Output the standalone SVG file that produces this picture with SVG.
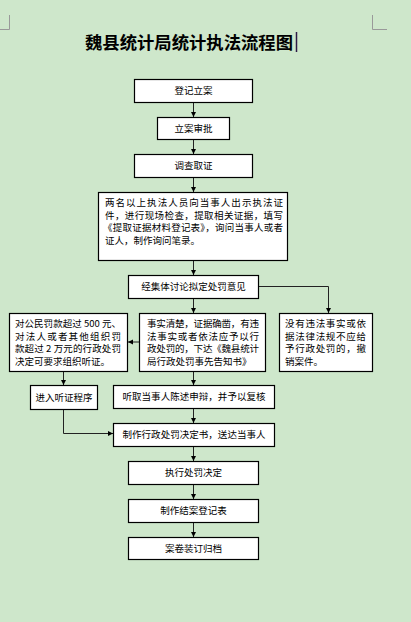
<svg xmlns="http://www.w3.org/2000/svg" width="411" height="622" viewBox="0 0 411 622">
<style>
.bg{fill:#cee7cb}
.box{fill:#fff;stroke:#000;stroke-width:1.2}
.t{font-family:"Noto Sans CJK SC","Liberation Sans",sans-serif;font-size:9.5px;fill:#000}
.c{text-anchor:middle}
.title{font-family:"Noto Sans CJK SC","Liberation Serif",serif;font-size:17px;font-weight:bold;fill:#000}
.ln{fill:none;stroke:#222;stroke-width:1}
.corner{fill:none;stroke:#999;stroke-width:1}
</style>
<defs>
<marker id="ah" markerUnits="userSpaceOnUse" markerWidth="6" markerHeight="6" refX="5" refY="3" orient="auto">
<path d="M0,0.5 L5,3 L0,5.5 Z" fill="#000"/>
</marker>
</defs>
<rect class="bg" x="0" y="0" width="411" height="622"/>
<path class="corner" d="M9.5,15 V29.5 H0 M372.5,15 V29.5 H387"/>
<text class="title" x="85" y="49" textLength="208" lengthAdjust="spacingAndGlyphs">魏县统计局统计执法流程图</text>
<line x1="296.5" y1="32" x2="296.5" y2="52" stroke="#2e1a47" stroke-width="1.5"/>

<g id="connectors">
<line class="ln" x1="193.5" y1="102" x2="193.5" y2="117" marker-end="url(#ah)"/>
<line class="ln" x1="193.5" y1="139" x2="193.5" y2="154" marker-end="url(#ah)"/>
<line class="ln" x1="193.5" y1="177" x2="193.5" y2="192" marker-end="url(#ah)"/>
<line class="ln" x1="193.5" y1="260" x2="193.5" y2="275" marker-end="url(#ah)"/>
<line class="ln" x1="193.5" y1="298" x2="193.5" y2="313" marker-end="url(#ah)"/>
<polyline class="ln" points="258,286.5 328.5,286.5 328.5,313" marker-end="url(#ah)"/>
<line class="ln" x1="139" y1="342" x2="128" y2="342" marker-end="url(#ah)"/>
<line class="ln" x1="63.5" y1="371" x2="63.5" y2="385" marker-end="url(#ah)"/>
<line class="ln" x1="193.5" y1="371" x2="193.5" y2="385" marker-end="url(#ah)"/>
<polyline class="ln" points="63.5,409 63.5,433.5 113,433.5" marker-end="url(#ah)"/>
<line class="ln" x1="193.5" y1="408" x2="193.5" y2="423" marker-end="url(#ah)"/>
<line class="ln" x1="193.5" y1="446" x2="193.5" y2="461" marker-end="url(#ah)"/>
<line class="ln" x1="193.5" y1="484" x2="193.5" y2="499" marker-end="url(#ah)"/>
<line class="ln" x1="193.5" y1="522" x2="193.5" y2="537" marker-end="url(#ah)"/>
</g>

<g id="n1"><rect class="box" x="134.5" y="79.5" width="118" height="23"/><text class="t c" x="193.5" y="94.3">登记立案</text></g>
<g id="n2"><rect class="box" x="157.5" y="117.5" width="72" height="22"/><text class="t c" x="193.5" y="131.8">立案审批</text></g>
<g id="n3"><rect class="box" x="134.5" y="154.5" width="118" height="23"/><text class="t c" x="193.5" y="169.3">调查取证</text></g>
<g id="n4"><rect class="box" x="98.5" y="192.5" width="189" height="68"/>
<text class="t" x="105" y="206.3" textLength="178" lengthAdjust="spacing">两名以上执法人员向当事人出示执法证</text>
<text class="t" x="105" y="218.8" textLength="178" lengthAdjust="spacing">件，进行现场检查，提取相关证据，填写</text>
<text class="t" x="103" y="231.3" textLength="180" lengthAdjust="spacing">《提取证据材料登记表》，询问当事人或者</text>
<text class="t" x="105" y="243.8">证人，制作询问笔录。</text>
</g>
<g id="n5"><rect class="box" x="128.5" y="275.5" width="130" height="23"/><text class="t c" x="193.5" y="290.3">经集体讨论拟定处罚意见</text></g>
<g id="n6"><rect class="box" x="9.5" y="313.5" width="118" height="58"/>
<text class="t" x="15" y="327" textLength="106" lengthAdjust="spacing">对公民罚款超过 500 元、</text>
<text class="t" x="15" y="339.5" textLength="106" lengthAdjust="spacing">对法人或者其他组织罚</text>
<text class="t" x="15" y="352" textLength="106" lengthAdjust="spacing">款超过 2 万元的行政处罚</text>
<text class="t" x="15" y="364.5">决定可要求组织听证。</text>
</g>
<g id="n7"><rect class="box" x="139.5" y="313.5" width="126" height="58"/>
<text class="t" x="147" y="327" textLength="112" lengthAdjust="spacing">事实清楚，证据确凿，有违</text>
<text class="t" x="147" y="339.5" textLength="112" lengthAdjust="spacing">法事实或者依法应予以行</text>
<text class="t" x="147" y="352" textLength="112" lengthAdjust="spacing">政处罚的，下达《魏县统计</text>
<text class="t" x="147" y="364.5">局行政处罚事先告知书》</text>
</g>
<g id="n8"><rect class="box" x="279.5" y="313.5" width="93" height="58"/>
<text class="t" x="285" y="327" textLength="81" lengthAdjust="spacing">没有违法事实或依</text>
<text class="t" x="285" y="339.5" textLength="81" lengthAdjust="spacing">据法律法规不应给</text>
<text class="t" x="285" y="352" textLength="81" lengthAdjust="spacing">予行政处罚的，撤</text>
<text class="t" x="285" y="364.5">销案件。</text>
</g>
<g id="n9"><rect class="box" x="30.5" y="385.5" width="67" height="24"/><text class="t c" x="64" y="400.8">进入听证程序</text></g>
<g id="n10"><rect class="box" x="113.5" y="385.5" width="161" height="23"/><text class="t c" x="194" y="400.3" textLength="143" lengthAdjust="spacing">听取当事人陈述申辩，并予以复核</text></g>
<g id="n11"><rect class="box" x="113.5" y="423.5" width="161" height="23"/><text class="t c" x="194" y="438.3" textLength="143" lengthAdjust="spacing">制作行政处罚决定书，送达当事人</text></g>
<g id="n12"><rect class="box" x="128.5" y="461.5" width="130" height="23"/><text class="t c" x="193.5" y="476.3">执行处罚决定</text></g>
<g id="n13"><rect class="box" x="128.5" y="499.5" width="130" height="23"/><text class="t c" x="193.5" y="514.3">制作结案登记表</text></g>
<g id="n14"><rect class="box" x="128.5" y="537.5" width="130" height="22"/><text class="t c" x="193.5" y="551.8">案卷装订归档</text></g>
</svg>
